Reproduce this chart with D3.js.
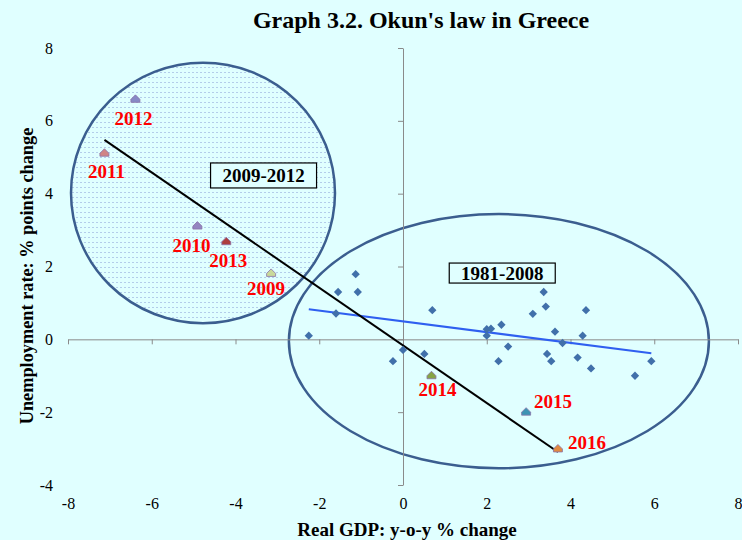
<!DOCTYPE html>
<html>
<head>
<meta charset="utf-8">
<script src="https://cdn.jsdelivr.net/npm/d3@7"></script>
<style>
  html, body { margin: 0; padding: 0; background: #E0FFFF; }
  svg { display: block; }
</style>
</head>
<body>
<svg id="chart" width="742" height="540"></svg>
<script>
// ---------- DATA ----------
const xTicks = [-8, -6, -4, -2, 0, 2, 4, 6, 8];
const yTicks = [-4, -2, 0, 2, 4, 6, 8];

// 1981-2008: real GDP growth (x) vs change in unemployment rate (y)
const histX = [-1.13, -1.55, -1.08, -1.60, -2.25, 0.70, -0.24, 0.00, 0.51, 2.00,
               2.10, 2.00, 2.35, 2.51, 2.28, 3.10, 3.36, 3.41, 3.63, 3.81,
               3.44, 3.54, 4.17, 4.29, 4.37, 4.49, 5.54, 5.93];
const histY = [1.79, 1.30, 1.30, 0.71, 0.10, 0.80, -0.60, -0.29, -0.40, 0.28,
               0.29, 0.10, 0.40, -0.20, -0.60, 0.70, 1.30, 0.90, 0.21, -0.10,
               -0.40, -0.60, -0.50, 0.10, 0.80, -0.80, -1.00, -0.60];

// 2009-2016 labelled years
const years  = ["2009", "2010", "2011", "2012", "2013", "2014", "2015", "2016"];
const crisisX = [-3.15, -4.91, -7.13, -6.39, -4.22, 0.68, 2.94, 3.70];
const crisisY = [1.81, 3.11, 5.11, 6.59, 2.68, -1.00, -2.00, -3.01];

// ---------- STYLE / LAYOUT ----------
const yearColors = ["#c9d99a", "#9485c0", "#d08585", "#8789c6", "#ad3e3e", "#86a446", "#3c93b3", "#e08a42"];
const labelOffsets = [[-5, 22], [-6, 26], [2, 25], [-2, 26], [2, 25], [6, 20], [27, -4], [29, 0]];

const W = 742, H = 540;
const svg = d3.select("#chart");
const serif = "'Liberation Serif', 'Times New Roman', serif";

const x = d3.scaleLinear().domain([-8, 8]).range([68, 738]);
const y = d3.scaleLinear().domain([-4, 8]).range([485, 48]);

// pattern for left ellipse
const defs = svg.append("defs");
const pat = defs.append("pattern").attr("id", "dots")
  .attr("patternUnits", "userSpaceOnUse").attr("width", 4).attr("height", 5);
pat.append("rect").attr("width", 4).attr("height", 5).attr("fill", "#E0FFFF");
pat.append("rect").attr("x", 0).attr("y", 2).attr("width", 2).attr("height", 1).attr("fill", "#b3cdea");

// ---------- ELLIPSES (data units) ----------
const ellipses = [
  { cx: -4.776, cy: 4.02, rx: 3.152, ry: 3.575, fill: "url(#dots)" },
  { cx: 2.29, cy: -0.05, rx: 5.015, ry: 3.49, fill: "none" }
];
svg.append("g").selectAll("ellipse").data(ellipses).join("ellipse")
  .attr("cx", d => x(d.cx)).attr("cy", d => y(d.cy))
  .attr("rx", d => x(d.rx) - x(0)).attr("ry", d => y(0) - y(d.ry))
  .attr("fill", d => d.fill)
  .attr("stroke", "#3b5e8f").attr("stroke-width", 2.5);

// ---------- AXES ----------
const axisColor = "#8a8a8a";
const gx = svg.append("g").attr("transform", `translate(0,${y(0)})`)
  .call(d3.axisBottom(x).tickValues(xTicks).tickSize(5).tickSizeOuter(0).tickFormat(""));
const gy = svg.append("g").attr("transform", `translate(${x(0)},0)`)
  .call(d3.axisLeft(y).tickValues(yTicks).tickSize(5).tickSizeOuter(0).tickFormat(""));
[gx, gy].forEach(g => {
  g.selectAll("path, line").attr("stroke", axisColor).attr("stroke-width", 1);
});

const gxl = svg.append("g").attr("transform", "translate(0,503)")
  .call(d3.axisBottom(x).tickValues(xTicks).tickSize(0).tickFormat(d => d));
gxl.select(".domain").remove();
gxl.selectAll("text").attr("font-family", serif).attr("font-size", 16).attr("fill", "#000")
  .attr("y", 0).attr("dy", "0.35em");

const gyl = svg.append("g").attr("transform", "translate(56,0)")
  .call(d3.axisLeft(y).tickValues(yTicks).tickSize(0).tickFormat(d => d));
gyl.select(".domain").remove();
gyl.selectAll("text").attr("font-family", serif).attr("font-size", 16).attr("fill", "#000");

// ---------- REGRESSION LINES ----------
function fit(xs, ys) {
  const mx = d3.mean(xs), my = d3.mean(ys);
  let sxy = 0, sxx = 0;
  xs.forEach((v, i) => { sxy += (v - mx) * (ys[i] - my); sxx += (v - mx) * (v - mx); });
  const b = sxy / sxx, a = my - b * mx;
  const [x0, x1] = d3.extent(xs);
  return [[x0, a + b * x0], [x1, a + b * x1]];
}
const line = d3.line().x(d => x(d[0])).y(d => y(d[1]));
svg.append("path").attr("d", line(fit(histX, histY)))
  .attr("stroke", "#2f5ff0").attr("stroke-width", 2).attr("fill", "none");
svg.append("path").attr("d", line(fit(crisisX, crisisY)))
  .attr("stroke", "#000").attr("stroke-width", 2).attr("fill", "none");

// ---------- POINTS ----------
const hist = histX.map((v, i) => ({ x: v, y: histY[i] }));
svg.append("g").selectAll("path").data(hist).join("path")
  .attr("transform", d => `translate(${x(d.x)},${y(d.y)})`)
  .attr("d", d3.symbol(d3.symbolDiamond2, 44))
  .attr("fill", "#4170aa");

const crisis = years.map((yr, i) => ({ yr, x: crisisX[i], y: crisisY[i], c: yearColors[i], off: labelOffsets[i] }));
const cg = svg.append("g");
cg.selectAll("path").data(crisis).join("path")
  .attr("transform", d => `translate(${x(d.x)},${y(d.y)})`)
  .attr("d", "M0,-4.5L4.5,0L4.5,3L-4.5,3L-4.5,0Z")
  .attr("fill", d => d.c).attr("stroke", "#8a72a8").attr("stroke-width", 0.8);
cg.selectAll("text").data(crisis).join("text")
  .attr("x", d => x(d.x) + d.off[0]).attr("y", d => y(d.y) + d.off[1])
  .attr("text-anchor", "middle")
  .attr("font-family", serif).attr("font-weight", "bold").attr("font-size", 19)
  .attr("fill", "#ff0000").text(d => d.yr);

// ---------- BOXED PERIOD LABELS ----------
const boxes = [
  { text: "2009-2012", x: -3.33, y: 4.50, w: 106, h: 25 },
  { text: "1981-2008", x: 2.37, y: 1.82, w: 106, h: 20 }
];
const bg = svg.append("g").selectAll("g").data(boxes).join("g")
  .attr("transform", d => `translate(${x(d.x)},${y(d.y)})`);
bg.append("rect").attr("x", d => -d.w / 2).attr("y", d => -d.h / 2)
  .attr("width", d => d.w).attr("height", d => d.h)
  .attr("fill", "#E0FFFF").attr("stroke", "#000").attr("stroke-width", 1.2);
bg.append("text").attr("text-anchor", "middle").attr("y", 6.5)
  .attr("font-family", serif).attr("font-weight", "bold").attr("font-size", 19)
  .text(d => d.text);

// ---------- TITLES ----------
svg.append("text").attr("x", 421).attr("y", 28).attr("text-anchor", "middle")
  .attr("font-family", serif).attr("font-weight", "bold").attr("font-size", 24)
  .text("Graph 3.2. Okun's law in Greece");
svg.append("text").attr("x", 407).attr("y", 536).attr("text-anchor", "middle")
  .attr("font-family", serif).attr("font-weight", "bold").attr("font-size", 19)
  .text("Real GDP: y-o-y % change");
svg.append("text").attr("transform", "translate(33,276) rotate(-90)").attr("text-anchor", "middle")
  .attr("font-family", serif).attr("font-weight", "bold").attr("font-size", 18.3)
  .text("Unemployment rate: % points change");
</script>
</body>
</html>
